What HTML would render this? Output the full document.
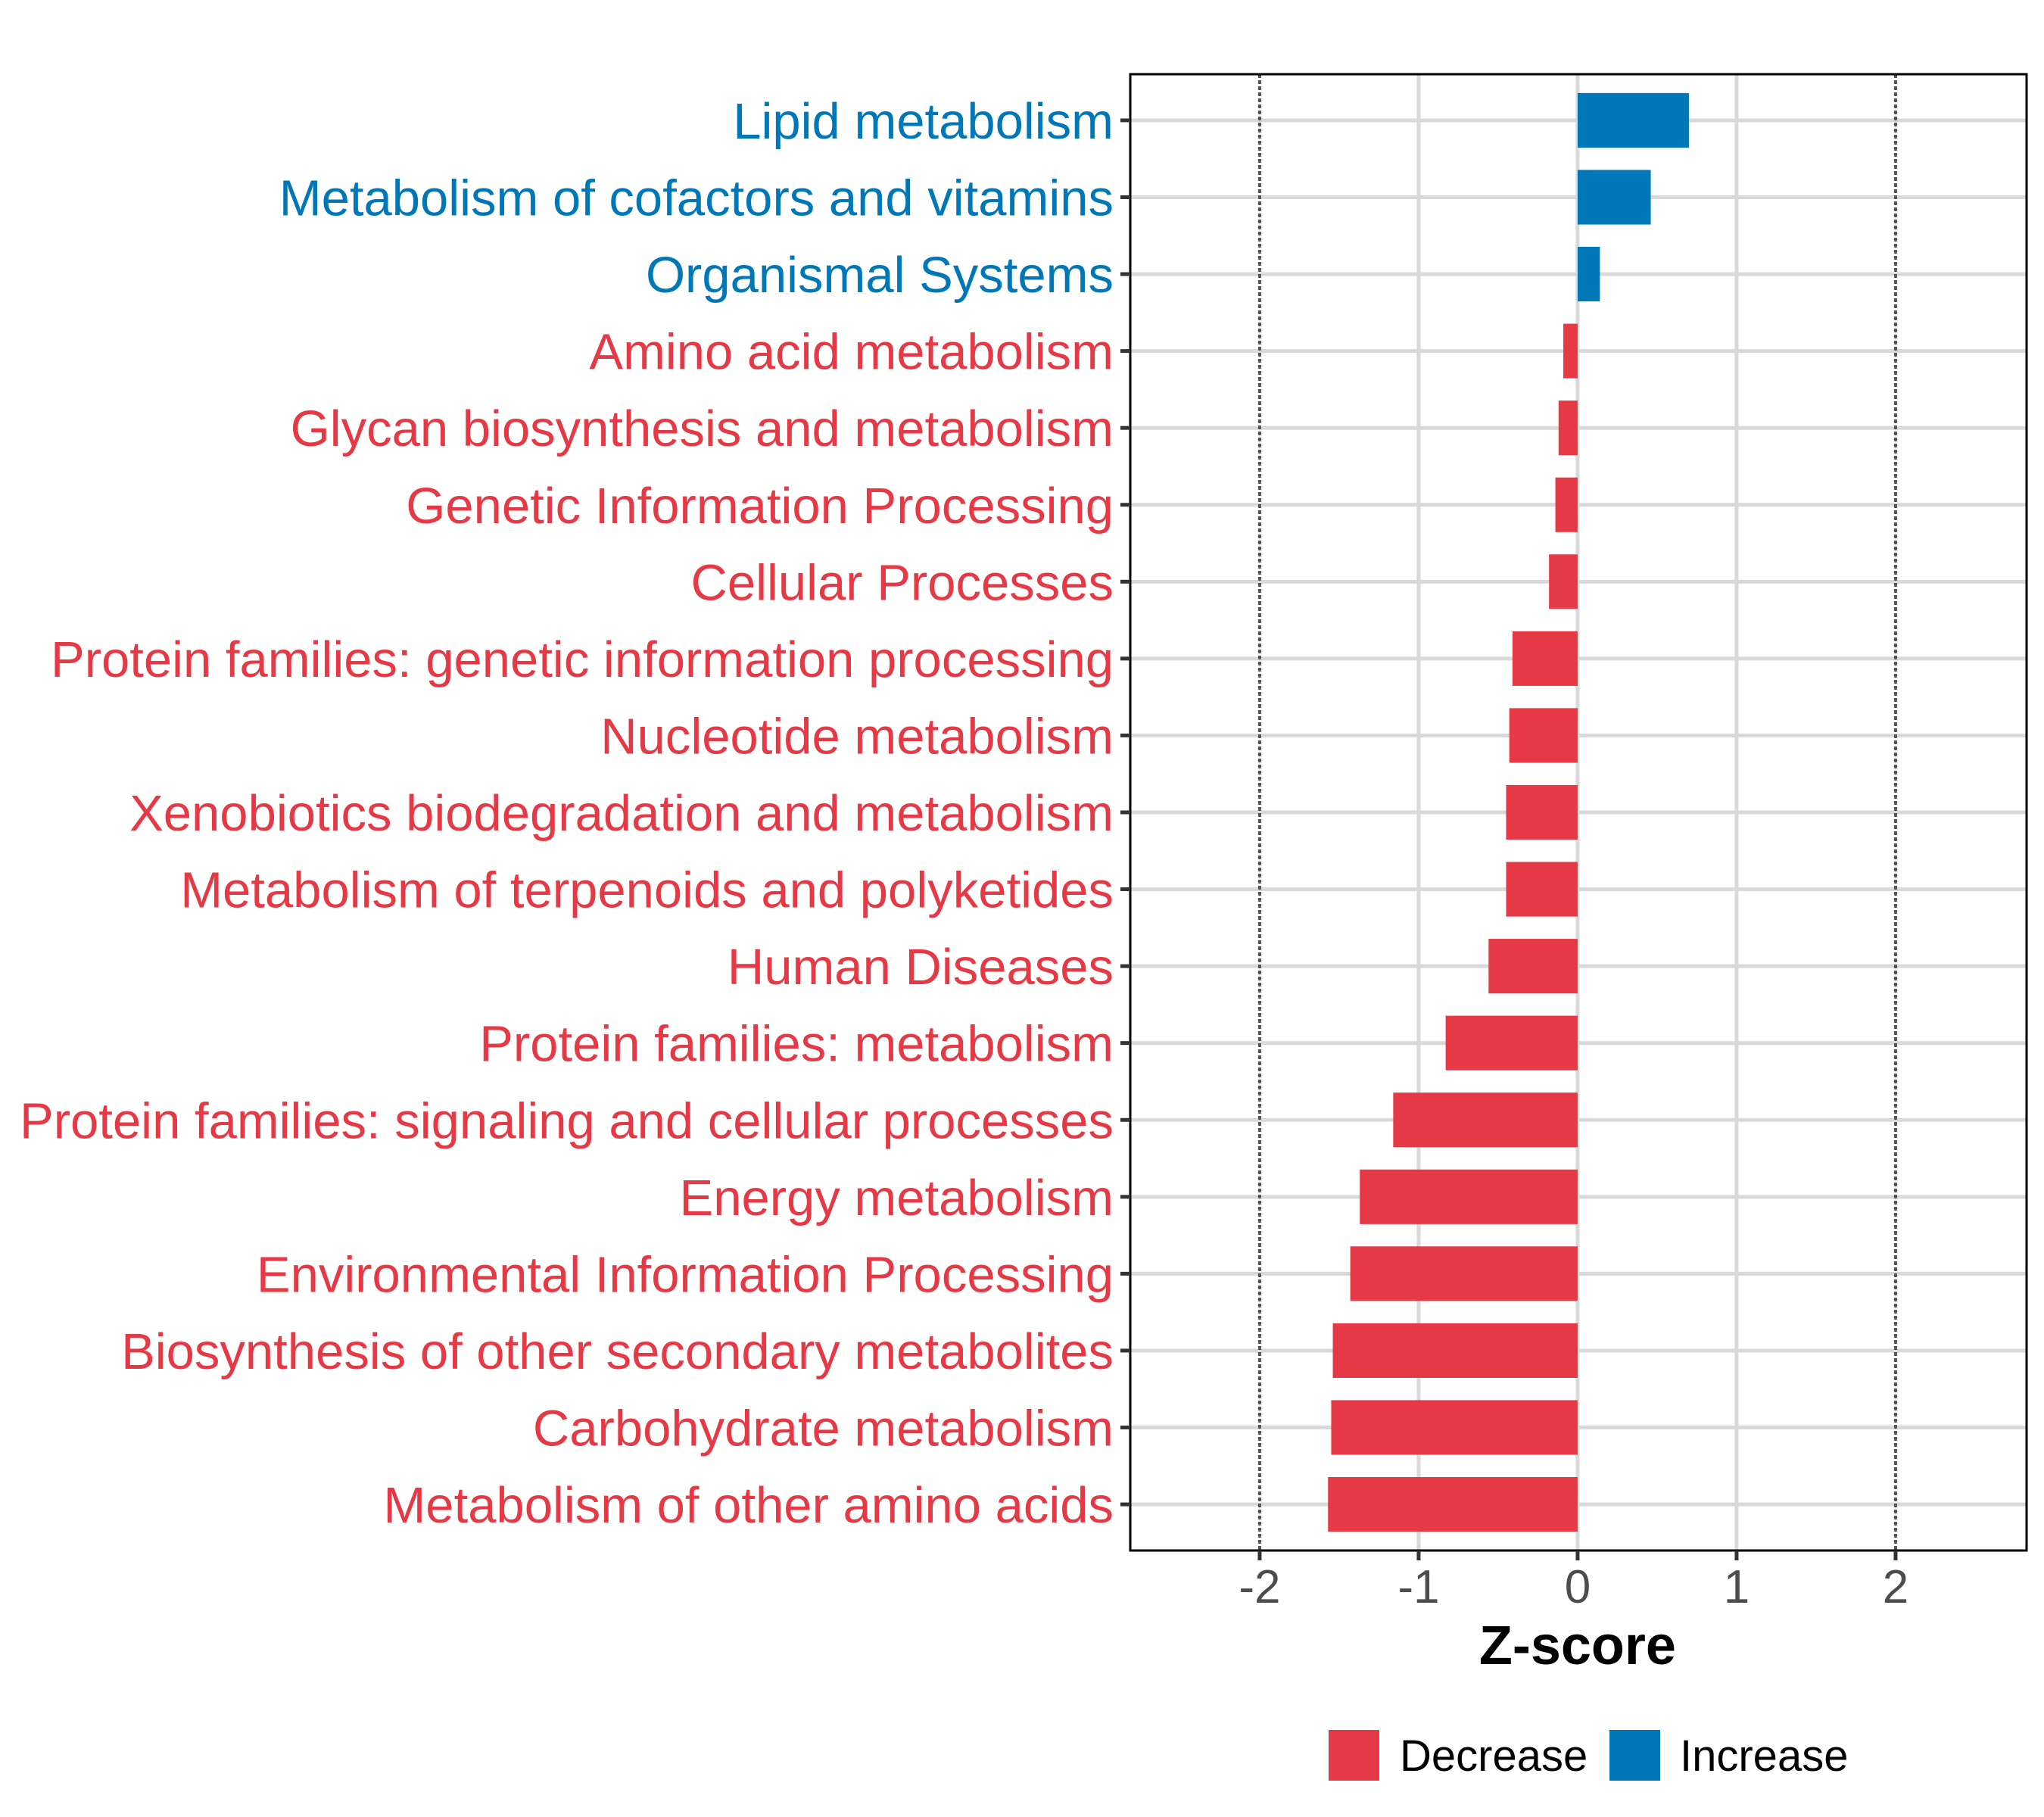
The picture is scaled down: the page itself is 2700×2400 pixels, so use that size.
<!DOCTYPE html>
<html><head><meta charset="utf-8"><style>
html,body{margin:0;padding:0;background:#fff;}
svg{display:block;font-family:"Liberation Sans",sans-serif;}
</style></head><body>
<svg id="chart" width="2700" height="2400" viewBox="0 0 2700 2400"></svg>
<script>
const categories = ["Lipid metabolism","Metabolism of cofactors and vitamins","Organismal Systems","Amino acid metabolism","Glycan biosynthesis and metabolism","Genetic Information Processing","Cellular Processes","Protein families: genetic information processing","Nucleotide metabolism","Xenobiotics biodegradation and metabolism","Metabolism of terpenoids and polyketides","Human Diseases","Protein families: metabolism","Protein families: signaling and cellular processes","Energy metabolism","Environmental Information Processing","Biosynthesis of other secondary metabolites","Carbohydrate metabolism","Metabolism of other amino acids"];
const zscores = [0.70,0.46,0.14,-0.09,-0.12,-0.14,-0.18,-0.41,-0.43,-0.45,-0.45,-0.56,-0.83,-1.16,-1.37,-1.43,-1.54,-1.55,-1.57];
const xTicks = [-2,-1,0,1,2];
const xTickLabels = ["-2","-1","0","1","2"];
const thresholds = [-2,2];

const NS="http://www.w3.org/2000/svg";
const svg=document.getElementById('chart');
const L=1493,R=2677,T=98,B=2048;
const xmin=-2.814,xmax=2.824;
const n=categories.length;
function xs(v){return L+(v-xmin)/(xmax-xmin)*(R-L);}
function ys(i){const p=(B-T)/(n-1+1.2);return T+0.6*p+i*p;}
const step=(B-T)/(n-1+1.2);
const RED="#E63946",BLUE="#0077B6";
function mk(tag,attrs,parent){const e=document.createElementNS(NS,tag);for(const k in attrs)e.setAttribute(k,attrs[k]);(parent||svg).appendChild(e);return e;}

const panel=mk('g',{});


categories.forEach((c,i)=>{
  const g=mk('line',{x1:L,x2:R,y1:ys(i),y2:ys(i),stroke:'#d9d9d9','stroke-width':5},panel);
  
  
});
xTicks.forEach(t=>{
  if(thresholds.includes(t))return;
  const g=mk('line',{x1:xs(t),x2:xs(t),y1:T,y2:B,stroke:'#d9d9d9','stroke-width':5},panel);
  
  
});
thresholds.forEach(t=>{
  const g=mk('line',{x1:xs(t),x2:xs(t),y1:T,y2:B,stroke:'#555','stroke-width':4,'stroke-dasharray':'5 3'},panel);
  
  
});
const bh=step*0.71;
categories.forEach((c,i)=>{
  const v=zscores[i];
  const x0=xs(Math.min(0,v)),x1=xs(Math.max(0,v));
  const b=mk('rect',{x:x0,y:ys(i)-bh/2,width:x1-x0,height:bh,fill:v>=0?BLUE:RED},panel);
  
  
});
const border=mk('rect',{x:L,y:T,width:R-L,height:B-T,fill:'none',stroke:'#000','stroke-width':3});


categories.forEach((c,i)=>{
  const tk=mk('line',{x1:L-13,x2:L,y1:ys(i),y2:ys(i),stroke:'#333','stroke-width':5});
  
  
  const t=mk('text',{x:L-22,y:ys(i)+24,'text-anchor':'end','font-size':67,fill:zscores[i]>=0?BLUE:RED});
  t.textContent=c;
  
  
});
xTicks.forEach((v,i)=>{
  const tk=mk('line',{x1:xs(v),x2:xs(v),y1:B,y2:B+13,stroke:'#333','stroke-width':5});
  
  
  const t=mk('text',{x:xs(v),y:2117,'text-anchor':'middle','font-size':62,fill:'#4d4d4d'});
  t.textContent=xTickLabels[i];
  
  
});
const xt=mk('text',{x:xs(0),y:2198,'text-anchor':'middle','font-size':72,'font-weight':'bold',fill:'#000'});
xt.textContent='Z-score';


const lg=mk('g',{});


const l1=mk('rect',{x:1755,y:2285,width:67,height:67,fill:RED},lg);


const lt1=mk('text',{x:1849,y:2339,'font-size':58,fill:'#000'},lg);
lt1.textContent='Decrease';


const l2=mk('rect',{x:2126,y:2285,width:67,height:67,fill:BLUE},lg);


const lt2=mk('text',{x:2219,y:2339,'font-size':58,fill:'#000'},lg);
lt2.textContent='Increase';


</script>
</body></html>
